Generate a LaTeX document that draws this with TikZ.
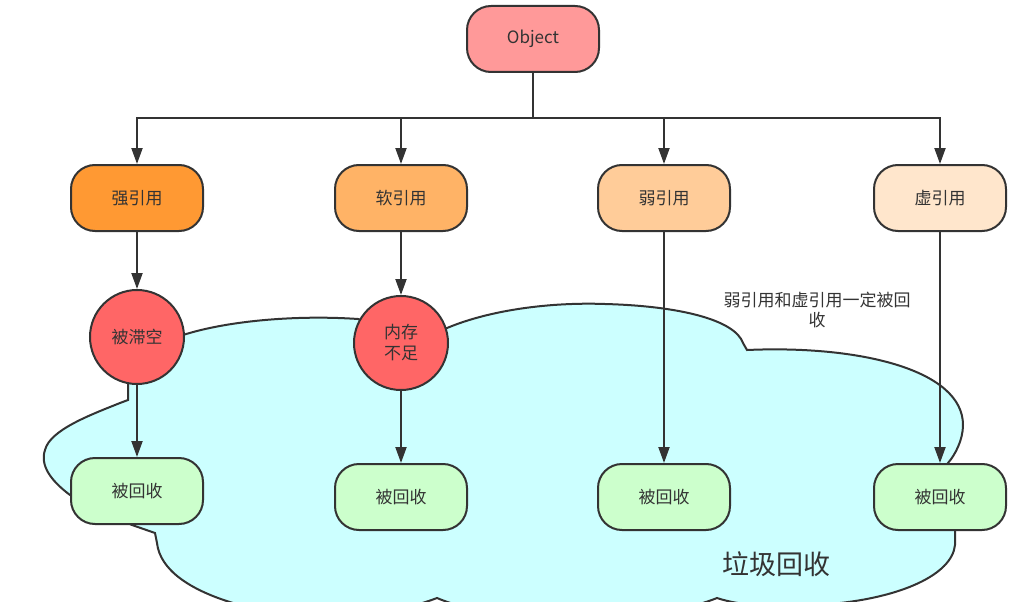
\documentclass[tikz,border=0pt]{standalone}
\usepackage{fontspec}
\setmainfont{Noto Sans CJK SC}
\usepackage{tikz}
\definecolor{gline}{HTML}{333333}
\definecolor{gpink}{HTML}{FF9999}
\definecolor{gorange}{HTML}{FF9933}
\definecolor{glorange}{HTML}{FFB366}
\definecolor{gpeach}{HTML}{FFCC99}
\definecolor{gcream}{HTML}{FFE6CC}
\definecolor{gred}{HTML}{FF6666}
\definecolor{ggreen}{HTML}{CCFFCC}
\definecolor{gcyan}{HTML}{CCFFFF}
\usetikzlibrary{arrows.meta}

\begin{document}
\begin{tikzpicture}[x=1pt, y=-1pt, color=gline, line width=2pt]
    \tikzset{nd/.style={
      rectangle,
      draw,
      rounded corners=24pt,
      minimum width=132pt,
      minimum height=66pt,
      font=\fontsize{17}{21}\selectfont,
      align=center},
      cir/.style={
      circle,
      draw,
      fill=gred,
      minimum size=94pt,
      inner sep=0pt,
      font=\fontsize{17}{21}\selectfont,
      align=center},
      arr/.style={-{Triangle[length=16pt,width=11pt]}}}
    \useasboundingbox (0,0) rectangle (1026,602);
    % garbage collection cloud
    \draw[fill=gcyan] (183,335) .. controls (230,320) and (300,315) .. (358,319)
      -- (400,332) -- (447,328)
      .. controls (490,310) and (550,302) .. (605,304)
      .. controls (680,306) and (735,320) .. (743,343) -- (747,350)
      .. controls (860,345) and (963,370) .. (963,425)
      .. controls (963,440) and (955,455) .. (948,463)
      -- (955,530) -- (955,545)
      .. controls (952,575) and (900,598) .. (830,604)
      .. controls (790,610) and (740,606) .. (717,598)
      .. controls (650,625) and (500,625) .. (437,598)
      .. controls (380,620) and (280,625) .. (233,603)
      .. controls (190,590) and (160,570) .. (157,543)
      -- (155,533) -- (132,525) -- (70,495)
      .. controls (50,480) and (40,465) .. (45,450)
      .. controls (50,430) and (90,415) .. (120,403)
      -- (128,400) -- (128,383) -- (150,350) -- cycle;
    \node[nd, fill=gpink] at (533, 39) (obj) {Object};
    \node[nd, fill=gorange] at (137, 198) (strong) {强引用};
    \node[nd, fill=glorange] at (401, 198) (soft) {软引用};
    \node[nd, fill=gpeach] at (664, 198) (weak) {弱引用};
    \node[nd, fill=gcream] at (940, 198) (phantom) {虚引用};
    \node[cir] at (137, 337) (null) {被滞空};
    \node[cir] at (401, 343) (lowmem) {内存\\不足};
    \node[nd, fill=ggreen] at (137, 491) (gc1) {被回收};
    \node[nd, fill=ggreen] at (401, 497) (gc2) {被回收};
    \node[nd, fill=ggreen] at (664, 497) (gc3) {被回收};
    \node[nd, fill=ggreen] at (940, 497) (gc4) {被回收};
    \node[align=center, font=\fontsize{17}{20}\selectfont] at (817, 310) (note) {弱引用和虚引用一定被回\\收};
    \node[font=\fontsize{27}{30}\selectfont] at (776, 564) (gclabel) {垃圾回收};
    \coordinate (fork) at (533, 118);
    \draw (obj) -- (fork);
    \draw[arr] (fork) -| (strong);
    \draw[arr] (fork) -| (soft);
    \draw[arr] (fork) -| (weak);
    \draw[arr] (fork) -| (phantom);
    \draw[arr] (strong) -- (null);
    \draw[arr] (null) -- (gc1);
    \draw[arr] (soft) -- (lowmem);
    \draw[arr] (lowmem) -- (gc2);
    \draw[arr] (weak) -- (gc3);
    \draw[arr] (phantom) -- (gc4);
\end{tikzpicture}
\end{document}
